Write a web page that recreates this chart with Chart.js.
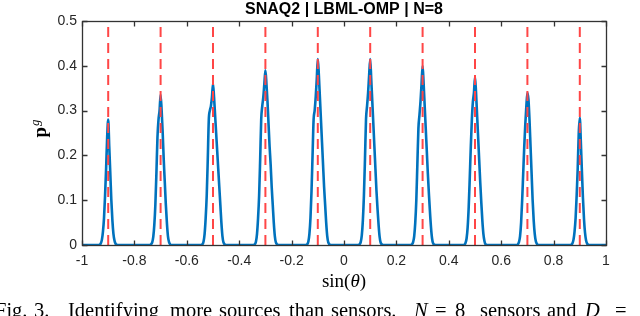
<!doctype html>
<html lang="en">
  <head>
    <meta charset="UTF-8" />
    <title>SNAQ2 | LBML-OMP | N=8</title>
    <script src="https://cdn.jsdelivr.net/npm/chart.js"></script>
    <style>
      html,
      body {
        margin: 0;
        padding: 0;
        background: #fff;
      }
      #wrap {
        width: 640px;
        height: 316px;
        overflow: hidden;
      }
    </style>
  </head>
  <body>
    <div id="wrap"><canvas id="chart" width="640" height="316"></canvas></div>

    <script>
      // true source positions (red dashed lines)
      const sources = [-0.9, -0.7, -0.5, -0.3, -0.1, 0.1, 0.3, 0.5, 0.7, 0.9];

      const offsets = [
        -0.05, -0.04, -0.036, -0.032, -0.028, -0.024, -0.02, -0.016, -0.012,
        -0.008, -0.004, 0, 0.004, 0.008, 0.012, 0.016, 0.02, 0.024, 0.028,
        0.032, 0.036, 0.04, 0.05,
      ];

      // p^g values per peak, one entry per offset
      const peakM09 = [0, 0, 0, 0.001, 0.004, 0.012, 0.03, 0.06, 0.11, 0.17, 0.24, 0.28, 0.22, 0.16, 0.1, 0.055, 0.025, 0.01, 0.003, 0.001, 0, 0, 0];
      const peakM07 = [0, 0, 0.002, 0.006, 0.018, 0.045, 0.09, 0.16, 0.24, 0.28, 0.3, 0.335, 0.3, 0.25, 0.19, 0.14, 0.09, 0.05, 0.02, 0.007, 0.002, 0, 0];
      const peakM05 = [0, 0.002, 0.008, 0.025, 0.06, 0.11, 0.19, 0.28, 0.3, 0.31, 0.33, 0.36, 0.33, 0.29, 0.25, 0.21, 0.17, 0.13, 0.09, 0.05, 0.02, 0.006, 0];
      const peakM03 = [0, 0.002, 0.008, 0.025, 0.06, 0.11, 0.19, 0.28, 0.31, 0.33, 0.36, 0.39, 0.36, 0.32, 0.27, 0.22, 0.18, 0.13, 0.09, 0.05, 0.02, 0.006, 0];
      const peakM01 = [0, 0.002, 0.008, 0.025, 0.06, 0.12, 0.2, 0.28, 0.3, 0.33, 0.37, 0.415, 0.38, 0.33, 0.28, 0.23, 0.18, 0.13, 0.09, 0.05, 0.02, 0.006, 0];
      const peakP01 = [0, 0.002, 0.007, 0.022, 0.055, 0.11, 0.19, 0.28, 0.31, 0.34, 0.38, 0.415, 0.37, 0.32, 0.27, 0.22, 0.17, 0.12, 0.08, 0.045, 0.018, 0.005, 0];
      const peakP03 = [0, 0.002, 0.007, 0.02, 0.05, 0.1, 0.18, 0.26, 0.29, 0.32, 0.36, 0.4, 0.36, 0.31, 0.26, 0.21, 0.16, 0.115, 0.075, 0.04, 0.015, 0.004, 0];
      const peakP05 = [0, 0.001, 0.005, 0.015, 0.04, 0.085, 0.15, 0.22, 0.28, 0.32, 0.34, 0.375, 0.34, 0.29, 0.24, 0.19, 0.14, 0.095, 0.055, 0.025, 0.009, 0.002, 0];
      const peakP07 = [0, 0, 0.002, 0.007, 0.02, 0.05, 0.1, 0.16, 0.22, 0.27, 0.31, 0.34, 0.325, 0.28, 0.22, 0.16, 0.1, 0.055, 0.025, 0.009, 0.003, 0, 0];
      const peakP09 = [0, 0, 0, 0.001, 0.004, 0.012, 0.03, 0.06, 0.11, 0.17, 0.25, 0.284, 0.23, 0.165, 0.105, 0.058, 0.027, 0.01, 0.003, 0.001, 0, 0, 0];
      const peaks = [peakM09, peakM07, peakM05, peakM03, peakM01, peakP01, peakP03, peakP05, peakP07, peakP09];

      const xTicks = [-1, -0.8, -0.6, -0.4, -0.2, 0, 0.2, 0.4, 0.6, 0.8, 1];
      const xTickLabels = ["-1", "-0.8", "-0.6", "-0.4", "-0.2", "0", "0.2", "0.4", "0.6", "0.8", "1"];
      const yTicks = [0, 0.1, 0.2, 0.3, 0.4, 0.5];
      const yTickLabels = ["0", "0.1", "0.2", "0.3", "0.4", "0.5"];

      const titleText = "SNAQ2 | LBML-OMP | N=8";
      const axisColor = "#262626";
      const sans = "'Liberation Sans', Arial, Helvetica, sans-serif";
      const serif = "'Liberation Serif', 'Times New Roman', serif";

      const curve = [{ x: -1, y: 0 }];
      sources.forEach((s, i) => {
        offsets.forEach((o, j) => {
          curve.push({ x: +(s + o).toFixed(3), y: peaks[i][j] });
        });
      });
      curve.push({ x: 1, y: 0 });

      const truth = [];
      sources.forEach((s) => {
        truth.push({ x: s, y: 0 }, { x: s, y: 0.5 }, { x: s, y: null });
      });

      const figureDecor = {
        id: "figureDecor",
        afterDraw(chart) {
          const { ctx, chartArea: a, scales } = chart;
          const cx = (a.left + a.right) / 2;

          // axes box with inward ticks on all four sides
          const l = Math.round(a.left) + 0.5;
          const r = Math.round(a.right) + 0.5;
          const t = Math.round(a.top) + 0.5;
          const b = Math.round(a.bottom) + 0.5;
          ctx.save();
          ctx.setLineDash([]);
          ctx.strokeStyle = "#333333";
          ctx.lineWidth = 1.3;
          ctx.strokeRect(l, t, r - l, b - t);
          ctx.beginPath();
          for (const v of xTicks) {
            const px = Math.round(scales.x.getPixelForValue(v)) + 0.5;
            ctx.moveTo(px, b);
            ctx.lineTo(px, b - 5);
            ctx.moveTo(px, t);
            ctx.lineTo(px, t + 5);
          }
          for (const v of yTicks) {
            const py = Math.round(scales.y.getPixelForValue(v)) + 0.5;
            ctx.moveTo(l, py);
            ctx.lineTo(l + 5, py);
            ctx.moveTo(r, py);
            ctx.lineTo(r - 5, py);
          }
          ctx.stroke();
          ctx.restore();

          ctx.save();
          ctx.fillStyle = "#000";
          ctx.textBaseline = "alphabetic";

          // title
          ctx.font = "bold 16px " + sans;
          ctx.textAlign = "center";
          ctx.fillText(titleText, cx, 14);

          // x label: sin(θ)
          ctx.textAlign = "left";
          const up = "19px " + serif;
          const it = "italic 19px " + serif;
          ctx.font = up;
          const w1 = ctx.measureText("sin(").width;
          const w3 = ctx.measureText(")").width;
          ctx.font = it;
          const w2 = ctx.measureText("θ").width;
          const x = cx - (w1 + w2 + w3) / 2;
          ctx.font = up;
          ctx.fillText("sin(", x, 287);
          ctx.font = it;
          ctx.fillText("θ", x + w1, 287);
          ctx.font = up;
          ctx.fillText(")", x + w1 + w2, 287);

          // y label: bold p with superscript g
          ctx.save();
          ctx.translate(46, (a.top + a.bottom) / 2 - 4);
          ctx.rotate(-Math.PI / 2);
          ctx.font = "bold 19px " + serif;
          const pw = ctx.measureText("p").width;
          ctx.font = "italic 13px " + serif;
          const gw = ctx.measureText("g").width;
          const y0 = -(pw + gw) / 2;
          ctx.font = "bold 19px " + serif;
          ctx.fillText("p", y0, 0);
          ctx.font = "italic 13px " + serif;
          ctx.fillText("g", y0 + pw + 1, -7);
          ctx.restore();

          // figure caption, justified in the paper and cut by the bottom edge
          const cap = "20.5px " + serif;
          const capIt = "italic 20.5px " + serif;
          const capY = 317;
          const parts = [
            ["Fig.", -5, cap],
            ["3.", 34, cap],
            ["Identifying", 68, cap],
            ["more", 170, cap],
            ["sources", 219, cap],
            ["than", 289, cap],
            ["sensors.", 331, cap],
            ["N", 414, capIt],
            ["=", 435, cap],
            ["8", 455, cap],
            ["sensors", 480, cap],
            ["and", 547, cap],
            ["D", 585, capIt],
            ["=", 615, cap],
          ];
          parts.forEach(([txt, px, f]) => {
            ctx.font = f;
            ctx.fillText(txt, px, capY);
          });
          ctx.restore();
        },
      };

      new Chart(document.getElementById("chart").getContext("2d"), {
        type: "line",
        data: {
          datasets: [
            {
              label: "truth",
              data: truth,
              borderColor: "rgb(255, 70, 70)",
              borderWidth: 2,
              borderDash: [10, 6],
              pointRadius: 0,
              spanGaps: false,
              order: 0,
            },
            {
              label: "p^g",
              data: curve,
              borderColor: "#0072BD",
              borderWidth: 2.6,
              pointRadius: 0,
              cubicInterpolationMode: "monotone",
              borderJoinStyle: "round",
              borderCapStyle: "round",
              order: 1,
            },
          ],
        },
        options: {
          responsive: false,
          animation: false,
          layout: {
            padding: { left: 0, right: 34, top: 21, bottom: 31 },
          },
          plugins: {
            legend: { display: false },
            tooltip: { enabled: false },
          },
          scales: {
            x: {
              type: "linear",
              min: -1,
              max: 1,
              grid: { display: false, drawTicks: false },
              border: { display: false },
              afterBuildTicks: (s) => {
                s.ticks = xTicks.map((v) => ({ value: v }));
              },
              afterFit: (s) => {
                s.height = 40;
              },
              ticks: {
                autoSkip: false,
                maxRotation: 0,
                padding: 8,
                color: axisColor,
                font: { family: sans, size: 14 },
                callback: (v) => xTickLabels[xTicks.indexOf(v)],
              },
            },
            y: {
              type: "linear",
              min: 0,
              max: 0.5,
              grid: { display: false, drawTicks: false },
              border: { display: false },
              afterBuildTicks: (s) => {
                s.ticks = yTicks.map((v) => ({ value: v }));
              },
              afterFit: (s) => {
                s.width = 82;
              },
              ticks: {
                autoSkip: false,
                padding: 5,
                color: axisColor,
                font: { family: sans, size: 14 },
                callback: (v) => yTickLabels[yTicks.indexOf(v)],
              },
            },
          },
        },
        plugins: [figureDecor],
      });
    </script>
  </body>
</html>
